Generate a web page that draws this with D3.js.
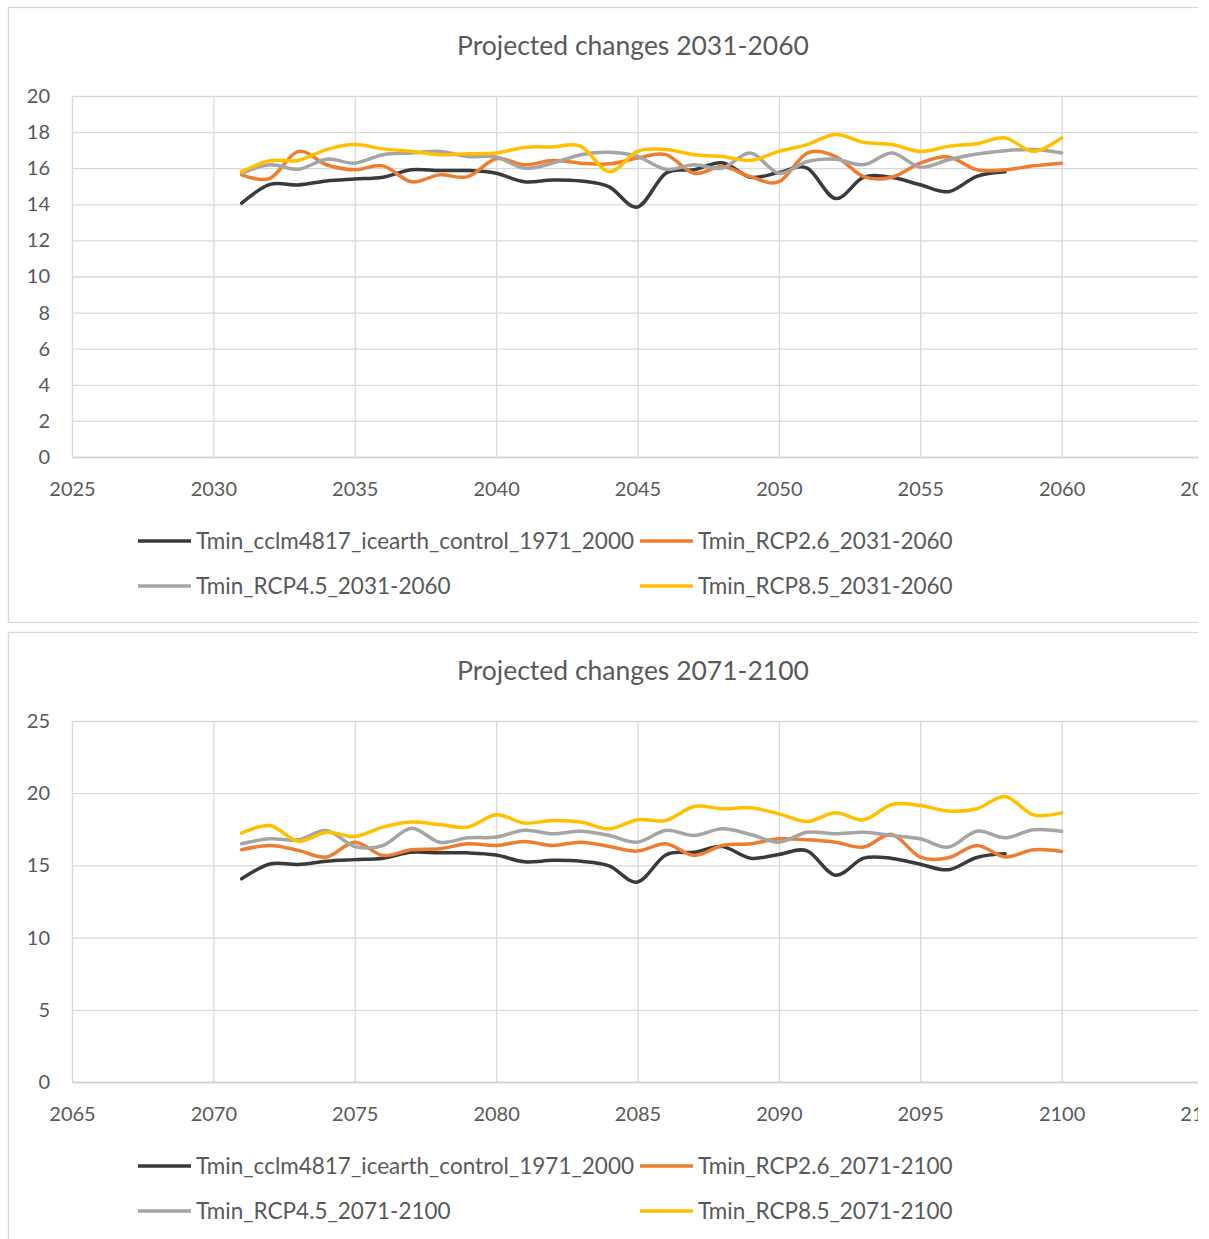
<!DOCTYPE html>
<html>
<head>
<meta charset="utf-8">
<script src="https://cdn.jsdelivr.net/npm/d3@7"></script>
<style>
  body { margin: 0; background: #fff; }
  text { font-family: Lato, "Open Sans", sans-serif; fill: #595959; }
</style>
</head>
<body>
<div id="chart"></div>
<script>
// years on the x axis
const yearsA = [2031, 2032, 2033, 2034, 2035, 2036, 2037, 2038, 2039, 2040, 2041, 2042, 2043, 2044, 2045,
  2046, 2047, 2048, 2049, 2050, 2051, 2052, 2053, 2054, 2055, 2056, 2057, 2058, 2059, 2060];
const yearsB = [2071, 2072, 2073, 2074, 2075, 2076, 2077, 2078, 2079, 2080, 2081, 2082, 2083, 2084, 2085,
  2086, 2087, 2088, 2089, 2090, 2091, 2092, 2093, 2094, 2095, 2096, 2097, 2098, 2099, 2100];

// control run (same in both panels, 28 values)
const control = [14.07, 15.1, 15.07, 15.29, 15.4, 15.5, 15.91, 15.87, 15.87, 15.72, 15.25, 15.35, 15.29, 14.97,
  13.85, 15.72, 15.91, 16.3, 15.5, 15.76, 16.0, 14.32, 15.5, 15.48, 15.08, 14.7, 15.55, 15.8];

// 2031-2060
const rcp26A = [15.63, 15.44, 16.93, 16.19, 15.91, 16.13, 15.25, 15.63, 15.53, 16.52, 16.19, 16.43, 16.28, 16.24,
  16.56, 16.75, 15.72, 16.09, 15.53, 15.25, 16.84, 16.65, 15.53, 15.5, 16.28, 16.62, 15.91, 15.91, 16.13, 16.28];
const rcp45A = [15.72, 16.19, 15.94, 16.5, 16.28, 16.75, 16.84, 16.93, 16.65, 16.62, 16.0, 16.28, 16.75, 16.88,
  16.65, 15.94, 16.19, 16.0, 16.84, 15.72, 16.37, 16.5, 16.19, 16.84, 16.06, 16.47, 16.79, 16.97, 17.03, 16.84];
const rcp85A = [15.81, 16.41, 16.43, 17.03, 17.31, 17.07, 16.93, 16.75, 16.8, 16.84, 17.15, 17.18, 17.21, 15.81,
  16.93, 17.03, 16.75, 16.65, 16.43, 16.93, 17.31, 17.87, 17.44, 17.31, 16.93, 17.21, 17.36, 17.68, 16.93, 17.68];

// 2071-2100
const rcp26B = [16.08, 16.38, 16.04, 15.58, 16.61, 15.69, 16.08, 16.15, 16.5, 16.38, 16.66, 16.38, 16.61, 16.31,
  15.99, 16.5, 15.69, 16.38, 16.5, 16.84, 16.77, 16.61, 16.27, 17.14, 15.58, 15.53, 16.38, 15.58, 16.08, 15.97];
const rcp45B = [16.5, 16.84, 16.77, 17.42, 16.31, 16.38, 17.58, 16.61, 16.91, 16.96, 17.44, 17.19, 17.37, 17.07,
  16.61, 17.42, 17.07, 17.53, 17.14, 16.61, 17.3, 17.19, 17.3, 17.07, 16.84, 16.27, 17.37, 16.91, 17.47, 17.37];
const rcp85B = [17.24, 17.76, 16.68, 17.3, 17.0, 17.65, 18.0, 17.83, 17.65, 18.5, 17.93, 18.11, 18.0, 17.53,
  18.16, 18.11, 19.08, 18.92, 18.99, 18.57, 18.04, 18.64, 18.16, 19.22, 19.15, 18.76, 18.92, 19.77, 18.5, 18.64];

const xTicksA = [2025, 2030, 2035, 2040, 2045, 2050, 2055, 2060, 2065];
const xTicksB = [2065, 2070, 2075, 2080, 2085, 2090, 2095, 2100, 2105];
const yTicksA = [0, 2, 4, 6, 8, 10, 12, 14, 16, 18, 20];
const yTicksB = [0, 5, 10, 15, 20, 25];

const colors = ['#3a3a3a', '#ed7d31', '#a5a5a5', '#ffc000'];

const W = 1209, H = 1239;
const svg = d3.select('#chart').append('svg').attr('width', W).attr('height', H);
svg.append('defs').append('clipPath').attr('id', 'cut')
  .append('rect').attr('x', 0).attr('y', 0).attr('width', 1198).attr('height', H);
const root = svg.append('g').attr('clip-path', 'url(#cut)');

function drawPanel(top, cfg) {
  const g = root.append('g').attr('transform', `translate(0,${top})`);

  // chart frame
  g.append('rect')
    .attr('x', 8.5).attr('y', 0.5).attr('width', 1250).attr('height', 615)
    .attr('fill', '#fff').attr('stroke', '#d9d9d9').attr('stroke-width', 1.3);

  g.append('text')
    .attr('x', 633).attr('y', 48)
    .attr('text-anchor', 'middle')
    .style('font-size', '26.5px')
    .text(cfg.title);

  const x = d3.scaleLinear().domain([cfg.xTicks[0], cfg.xTicks[cfg.xTicks.length - 1]]).range([72, 1203]);
  const y = d3.scaleLinear().domain([0, cfg.yMax]).range([450, 89]);

  // horizontal grid + y labels
  const yAxis = g.append('g').attr('transform', 'translate(72,0)')
    .call(d3.axisLeft(y).tickValues(cfg.yTicks).tickFormat(d3.format('d'))
      .tickSizeInner(-1131).tickSizeOuter(0).tickPadding(22));
  yAxis.select('.domain').remove();
  yAxis.selectAll('line').attr('stroke', '#d9d9d9').attr('stroke-width', 1.3);
  yAxis.selectAll('text').style('font-size', '20px').attr('fill', '#595959').style('font-family', 'Lato');

  // vertical grid + x labels
  const xAxis = g.append('g').attr('transform', 'translate(0,450)')
    .call(d3.axisBottom(x).tickValues(cfg.xTicks).tickFormat(d3.format('d'))
      .tickSizeInner(-361).tickSizeOuter(0).tickPadding(0));
  xAxis.select('.domain').attr('stroke', '#d0d0d0').attr('stroke-width', 1.5);
  xAxis.selectAll('line').attr('stroke', '#d9d9d9').attr('stroke-width', 1.3);
  xAxis.selectAll('text').attr('y', 32).attr('dy', '0.35em')
    .style('font-size', '20px').attr('fill', '#595959').style('font-family', 'Lato');

  const line = d3.line()
    .x(d => x(d[0]))
    .y(d => y(d[1]))
    .curve(d3.curveCatmullRom.alpha(0));

  cfg.series.forEach((s, i) => {
    const pts = s.values.map((v, j) => [cfg.years[j], v]);
    g.append('path')
      .datum(pts)
      .attr('d', line)
      .attr('fill', 'none')
      .attr('stroke', colors[i])
      .attr('stroke-width', 3.5)
      .attr('stroke-linecap', 'round')
      .attr('stroke-linejoin', 'round');
  });

  // legend, two columns
  const legendPos = [[138, 534], [640, 534], [138, 579], [640, 579]];
  cfg.series.forEach((s, i) => {
    const [lx, ly] = legendPos[i];
    g.append('line')
      .attr('x1', lx).attr('x2', lx + 53).attr('y1', ly).attr('y2', ly)
      .attr('stroke', colors[i]).attr('stroke-width', 3.5);
    g.append('text')
      .attr('x', lx + 58).attr('y', ly).attr('dy', '0.35em')
      .style('font-size', '22.5px')
      .text(s.name);
  });
}

drawPanel(7, {
  title: 'Projected changes 2031-2060',
  years: yearsA, xTicks: xTicksA, yTicks: yTicksA, yMax: 20,
  series: [
    { name: 'Tmin_cclm4817_icearth_control_1971_2000', values: control },
    { name: 'Tmin_RCP2.6_2031-2060', values: rcp26A },
    { name: 'Tmin_RCP4.5_2031-2060', values: rcp45A },
    { name: 'Tmin_RCP8.5_2031-2060', values: rcp85A }
  ]
});

drawPanel(632, {
  title: 'Projected changes 2071-2100',
  years: yearsB, xTicks: xTicksB, yTicks: yTicksB, yMax: 25,
  series: [
    { name: 'Tmin_cclm4817_icearth_control_1971_2000', values: control },
    { name: 'Tmin_RCP2.6_2071-2100', values: rcp26B },
    { name: 'Tmin_RCP4.5_2071-2100', values: rcp45B },
    { name: 'Tmin_RCP8.5_2071-2100', values: rcp85B }
  ]
});
</script>
</body>
</html>
